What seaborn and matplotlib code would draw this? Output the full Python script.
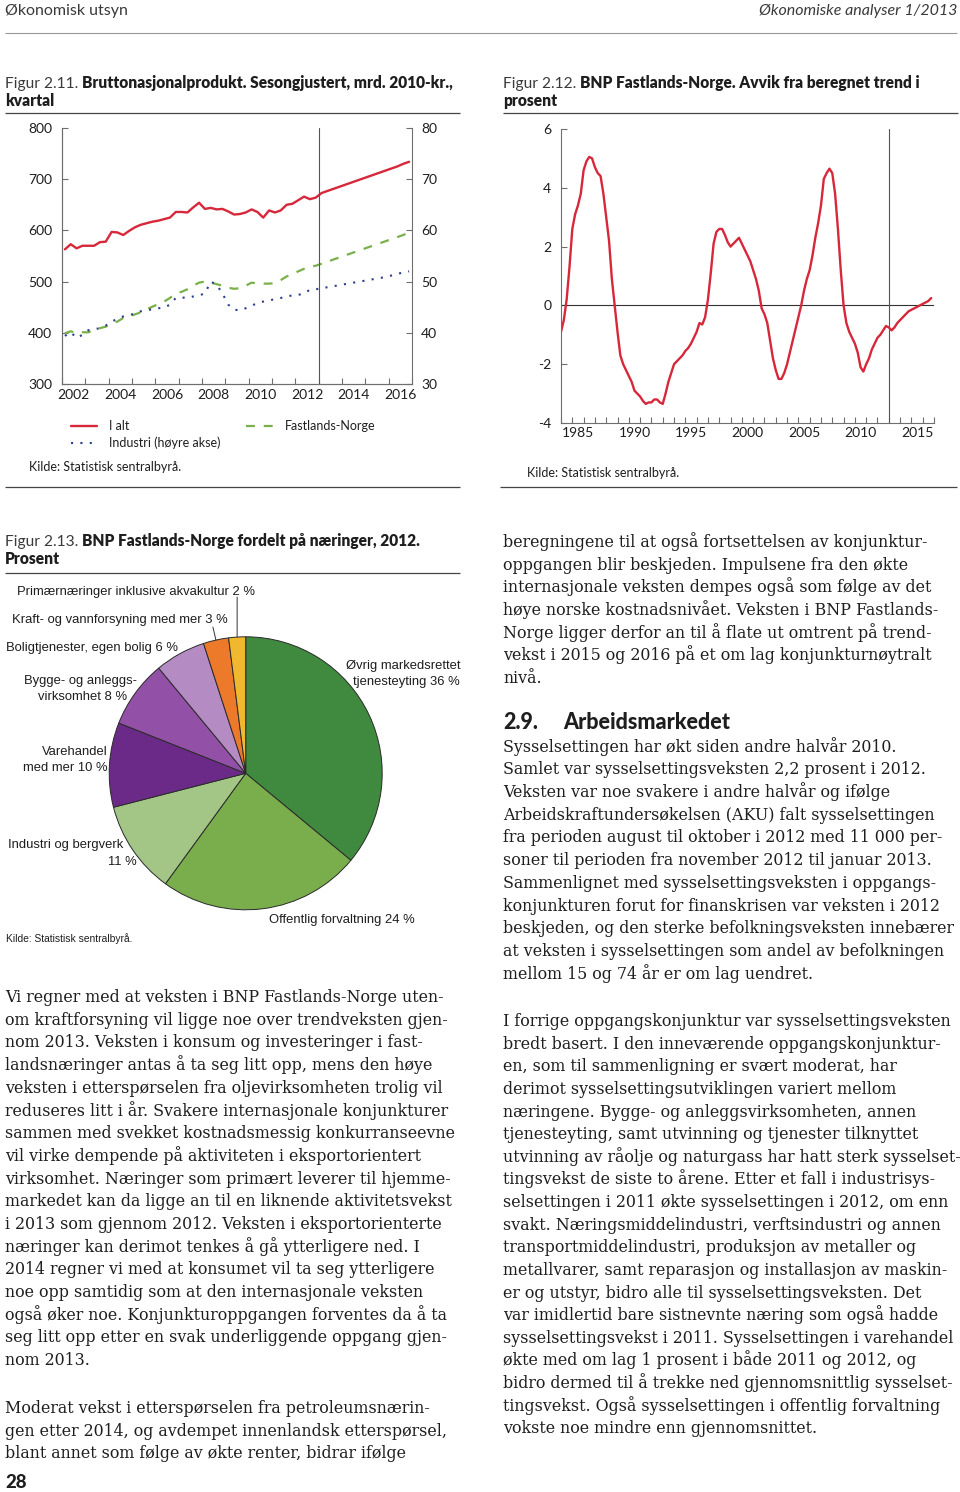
import numpy as np
import pandas as pd
import seaborn as sns
import matplotlib.pyplot as plt

# Figur 2.11: BNP, mrd. 2010-kr., kvartal 2002K1-2016K4 (prognose fra 2013)
bnp_i_alt = [563, 573, 565, 570, 570, 570, 577, 578, 597, 596, 591, 599,
             606, 611, 614, 617, 619, 622, 625, 636, 636, 635, 645, 654,
             642, 644, 641, 642, 637, 631, 632, 635, 641, 636, 625, 639,
             635, 639, 650, 652, 659, 666, 661, 664,
             673, 677, 681, 685, 689, 693, 697, 701, 705, 709, 713, 717,
             721, 725, 730, 734]
bnp_fastland = [399, 403, 399, 401, 401, 405, 409, 412, 417, 422, 429, 432,
                436, 440, 446, 451, 456, 461, 468, 477, 480, 485, 492, 498,
                500, 498, 495, 492, 488, 486, 487, 492, 498, 496, 496, 496,
                497, 503, 510, 515, 520, 525, 529, 531,
                535, 539, 543, 547, 551, 555, 559, 563, 567, 571, 575, 579,
                583, 587, 591, 596]
industri = [39.4, 40.1, 39.0, 39.6, 40.5, 40.7, 40.9, 41.4, 42.2, 42.7, 43.2, 43.4,
            43.8, 44.2, 44.4, 44.6, 44.8, 44.9, 45.5, 46.8, 46.9, 46.8, 47.1, 47.3,
            47.7, 50.0, 49.4, 47.7, 45.5, 44.5, 44.4, 44.8, 45.3, 45.8, 46.1, 46.3,
            46.6, 46.8, 47.1, 47.3, 47.4, 47.7, 48.4, 48.5,
            48.7, 48.9, 49.1, 49.3, 49.5, 49.7, 49.9, 50.1, 50.3, 50.5, 50.7, 50.9,
            51.2, 51.5, 51.8, 52.0]
aar_211 = list(range(2002, 2017, 2))

# Figur 2.12: avvik fra trend i prosent, kvartal 1984K1-2016K4
avvik = [-0.9, -0.5, 0.2, 1.3, 2.6, 3.1, 3.4, 3.8, 4.6, 4.9, 5.05, 5.0,
         4.7, 4.5, 4.4, 3.8, 3.0, 2.2, 0.9, 0.0, -0.9, -1.7, -2.0, -2.2,
         -2.4, -2.6, -2.9, -3.0, -3.1, -3.25, -3.35, -3.3, -3.3, -3.2, -3.2, -3.3,
         -3.35, -3.0, -2.6, -2.3, -2.0, -1.9, -1.8, -1.7, -1.55, -1.45, -1.3, -1.1,
         -0.9, -0.6, -0.65, -0.4, 0.2, 1.1, 2.1, 2.5, 2.6, 2.6, 2.4, 2.15,
         2.0, 2.1, 2.2, 2.3, 2.1, 1.9, 1.7, 1.5, 1.2, 0.9, 0.5, -0.1,
         -0.3, -0.6, -1.2, -1.8, -2.2, -2.5, -2.5, -2.3, -2.0, -1.6, -1.2, -0.8,
         -0.4, 0.0, 0.5, 0.9, 1.2, 1.7, 2.3, 2.8, 3.4, 4.3, 4.5, 4.65,
         4.5, 3.8, 2.6, 1.2, 0.0, -0.6, -0.9, -1.1, -1.3, -1.6, -2.1, -2.25,
         -2.0, -1.8, -1.5, -1.3, -1.1, -1.0, -0.85, -0.7, -0.75, -0.85, -0.75, -0.6,
         -0.5, -0.4, -0.3, -0.2, -0.15, -0.1, -0.05, 0.0, 0.05, 0.1, 0.15, 0.25]
aar_212 = list(range(1985, 2016, 5))

# Figur 2.13: BNP Fastlands-Norge fordelt paa naeringer 2012, prosent
naeringer = ['Øvrig markedsrettet tjenesteyting', 'Offentlig forvaltning',
             'Industri og bergverk', 'Varehandel med mer',
             'Bygge- og anleggsvirksomhet', 'Boligtjenester, egen bolig',
             'Kraft- og vannforsyning med mer', 'Primærnæringer inklusive akvakultur']
andeler = [36, 24, 11, 10, 8, 6, 3, 2]
pie_farger = ['#3f8a3e', '#7aae4c', '#a3c686', '#6b2a87',
              '#9250a6', '#b48bc3', '#ec7a2a', '#f0b82e']

venstre_tekst = [
    "Vi regner med at veksten i BNP Fastlands-Norge uten-",
    "om kraftforsyning vil ligge noe over trendveksten gjen-",
    "nom 2013. Veksten i konsum og investeringer i fast-",
    "landsnæringer antas å ta seg litt opp, mens den høye",
    "veksten i etterspørselen fra oljevirksomheten trolig vil",
    "reduseres litt i år. Svakere internasjonale konjunkturer",
    "sammen med svekket kostnadsmessig konkurranseevne",
    "vil virke dempende på aktiviteten i eksportorientert",
    "virksomhet. Næringer som primært leverer til hjemme-",
    "markedet kan da ligge an til en liknende aktivitetsvekst",
    "i 2013 som gjennom 2012. Veksten i eksportorienterte",
    "næringer kan derimot tenkes å gå ytterligere ned. I",
    "2014 regner vi med at konsumet vil ta seg ytterligere",
    "noe opp samtidig som at den internasjonale veksten",
    "også øker noe. Konjunkturoppgangen forventes da å ta",
    "seg litt opp etter en svak underliggende oppgang gjen-",
    "nom 2013.",
]
venstre_tekst2 = [
    "Moderat vekst i etterspørselen fra petroleumsnærin-",
    "gen etter 2014, og avdempet innenlandsk etterspørsel,",
    "blant annet som følge av økte renter, bidrar ifølge",
]
hoyre_tekst1 = [
    "beregningene til at også fortsettelsen av konjunktur-",
    "oppgangen blir beskjeden. Impulsene fra den økte",
    "internasjonale veksten dempes også som følge av det",
    "høye norske kostnadsnivået. Veksten i BNP Fastlands-",
    "Norge ligger derfor an til å flate ut omtrent på trend-",
    "vekst i 2015 og 2016 på et om lag konjunkturnøytralt",
    "nivå.",
]
hoyre_tekst2 = [
    "Sysselsettingen har økt siden andre halvår 2010.",
    "Samlet var sysselsettingsveksten 2,2 prosent i 2012.",
    "Veksten var noe svakere i andre halvår og ifølge",
    "Arbeidskraftundersøkelsen (AKU) falt sysselsettingen",
    "fra perioden august til oktober i 2012 med 11 000 per-",
    "soner til perioden fra november 2012 til januar 2013.",
    "Sammenlignet med sysselsettingsveksten i oppgangs-",
    "konjunkturen forut for finanskrisen var veksten i 2012",
    "beskjeden, og den sterke befolkningsveksten innebærer",
    "at veksten i sysselsettingen som andel av befolkningen",
    "mellom 15 og 74 år er om lag uendret.",
]
hoyre_tekst3 = [
    "I forrige oppgangskonjunktur var sysselsettingsveksten",
    "bredt basert. I den inneværende oppgangskonjunktur-",
    "en, som til sammenligning er svært moderat, har",
    "derimot sysselsettingsutviklingen variert mellom",
    "næringene. Bygge- og anleggsvirksomheten, annen",
    "tjenesteyting, samt utvinning og tjenester tilknyttet",
    "utvinning av råolje og naturgass har hatt sterk sysselset-",
    "tingsvekst de siste to årene. Etter et fall i industrisys-",
    "selsettingen i 2011 økte sysselsettingen i 2012, om enn",
    "svakt. Næringsmiddelindustri, verftsindustri og annen",
    "transportmiddelindustri, produksjon av metaller og",
    "metallvarer, samt reparasjon og installasjon av maskin-",
    "er og utstyr, bidro alle til sysselsettingsveksten. Det",
    "var imidlertid bare sistnevnte næring som også hadde",
    "sysselsettingsvekst i 2011. Sysselsettingen i varehandel",
    "økte med om lag 1 prosent i både 2011 og 2012, og",
    "bidro dermed til å trekke ned gjennomsnittlig sysselset-",
    "tingsvekst. Også sysselsettingen i offentlig forvaltning",
    "vokste noe mindre enn gjennomsnittet.",
]

sns.set_style('ticks')
plt.rcParams['font.family'] = ['Lato', 'DejaVu Sans']
plt.rcParams['axes.unicode_minus'] = False

RED = '#d6283a'
GREEN = '#7ab04a'
NAVY = '#2b3f8c'
SPINE = '#6e6e6e'
INK = '#1e1e1e'
SANS = ['Lato', 'DejaVu Sans']
ARIAL = ['Liberation Sans', 'DejaVu Sans']
SERIF = ['DejaVu Serif']

W, H = 960, 1492
fig = plt.figure(figsize=(W / 100, H / 100), dpi=100)

# side-akser i piksler for tekst og linjer
page = fig.add_axes([0, 0, 1, 1])
page.set_xlim(0, W)
page.set_ylim(H, 0)
page.axis('off')


def box(x0, y0, x1, y1):
    return [x0 / W, 1 - y1 / H, (x1 - x0) / W, (y1 - y0) / H]


def rule(x0, x1, y, color='#444444', lw=0.9):
    page.plot([x0, x1], [y, y], color=color, lw=lw, solid_capstyle='butt')


def title(x, y, nr, linje1, linje2):
    t = page.text(x, y, nr, family=SANS, size=11.2, color='#3a3a3a',
                  va='baseline')
    page.annotate(linje1, xy=(1, 0), xycoords=t, xytext=(4, 0),
                  textcoords='offset pixels', va='bottom', family=SANS,
                  size=11.2, weight='heavy', color=INK)
    page.text(x, y + 18, linje2, family=SANS, size=11.2, weight='heavy',
              color=INK, va='baseline')


# header
page.text(5, 15, 'Økonomisk utsyn', family=SANS, size=11.5, color='#3a3a3a',
          va='baseline')
page.text(957, 15, 'Økonomiske analyser 1/2013', family=SANS, size=11.5,
          style='italic', color='#3a3a3a', ha='right', va='baseline')
rule(5, 957, 33, color='#999999', lw=0.8)

# ---------- Figur 2.11 ----------
title(5, 87.7, 'Figur 2.11.', 'Bruttonasjonalprodukt. Sesongjustert, mrd. 2010-kr.,', 'kvartal')
rule(5, 460, 113)

df1 = pd.DataFrame({
    'tid': 2002 + np.arange(len(bnp_i_alt)) / 4 + 0.125,
    'I alt': bnp_i_alt,
    'Fastlands-Norge': bnp_fastland,
    'Industri': industri,
})
ax1 = fig.add_axes(box(62, 128, 412, 384))
ax1b = ax1.twinx()
sns.lineplot(data=df1, x='tid', y='I alt', ax=ax1, color=RED, lw=1.7)
sns.lineplot(data=df1, x='tid', y='Fastlands-Norge', ax=ax1, color=GREEN,
             lw=1.6, linestyle=(0, (4, 4)))
sns.lineplot(data=df1, x='tid', y='Industri', ax=ax1b, color=NAVY,
             lw=1.5, linestyle=(0, (1, 3.5)))
h_ialt, h_fast = ax1.lines[0], ax1.lines[1]
h_ind = ax1b.lines[0]
ax1.axvline(2013, color='#555555', lw=0.8)

ax1.set_xlim(2002, 2017)
ax1.set_ylim(300, 800)
ax1b.set_ylim(30, 80)
ax1.set_yticks(range(300, 801, 100))
ax1b.set_yticks(range(30, 81, 10))
ax1.set_xticks(range(2002, 2018))
ax1.set_xticklabels([])
ax1.set_xticks([a + 0.5 for a in aar_211], labels=[str(a) for a in aar_211], minor=True)
for a in (ax1, ax1b):
    a.set(xlabel='', ylabel='')
    a.spines['top'].set_visible(False)
    for s in a.spines.values():
        s.set_color(SPINE)
        s.set_linewidth(0.8)
ax1.spines['right'].set_visible(False)
ax1.tick_params(axis='y', direction='in', length=4, width=0.8, color=SPINE,
                labelsize=10, pad=7, labelcolor=INK)
ax1b.tick_params(axis='y', direction='in', length=4, width=0.8, color=SPINE,
                 labelsize=10, pad=6.5, labelcolor=INK)
ax1.tick_params(axis='x', which='major', direction='in', length=4, width=0.8,
                color=SPINE)
ax1.tick_params(axis='x', which='minor', length=0, labelsize=10, pad=3.5,
                labelcolor=INK)
for lab in ax1.get_yticklabels() + ax1b.get_yticklabels() + ax1.get_xticklabels(minor=True):
    lab.set_family(SANS)

fig.legend([h_ialt, h_ind, h_fast], ['I alt', 'Industri (høyre akse)', 'Fastlands-Norge'],
           ncol=2, loc='upper left', bbox_to_anchor=(71 / W, 1 - 420 / H),
           frameon=False, prop=dict(family=SANS, size=9), handlelength=2.1,
           handletextpad=0.95, labelspacing=0.35, columnspacing=2.05,
           borderpad=0, borderaxespad=0, labelcolor=INK)
page.text(29, 470.7, 'Kilde: Statistisk sentralbyrå.', family=SANS, size=9,
          color=INK, va='baseline')
rule(5, 460, 487)

# ---------- Figur 2.12 ----------
title(503, 87.7, 'Figur 2.12.', 'BNP Fastlands-Norge. Avvik fra beregnet trend i', 'prosent')
rule(503, 958, 113)

df2 = pd.DataFrame({'tid': 1984 + np.arange(len(avvik)) / 4, 'avvik': avvik})
ax2 = fig.add_axes(box(561, 129, 934, 423))
sns.lineplot(data=df2, x='tid', y='avvik', ax=ax2, color=RED, lw=1.7)
ax2.axhline(0, color='#333333', lw=0.8, zorder=1)
ax2.axvline(2013, color='#555555', lw=0.8, zorder=1)
ax2.set_xlim(1984, 2017)
ax2.set_ylim(-4, 6)
ax2.set_yticks(range(-4, 7, 2))
ax2.set_xticks(range(1984, 2018))
ax2.set_xticklabels([])
ax2.set_xticks([a + 0.5 for a in aar_212], labels=[str(a) for a in aar_212], minor=True)
ax2.set(xlabel='', ylabel='')
ax2.spines[['top', 'right']].set_visible(False)
for s in ax2.spines.values():
    s.set_color(SPINE)
    s.set_linewidth(0.8)
ax2.tick_params(axis='y', direction='in', length=4, width=0.8, color=SPINE,
                labelsize=10, pad=7, labelcolor=INK)
ax2.tick_params(axis='x', which='major', direction='in', length=4, width=0.8,
                color=SPINE)
ax2.tick_params(axis='x', which='minor', length=0, labelsize=10, pad=3,
                labelcolor=INK)
for lab in ax2.get_yticklabels() + ax2.get_xticklabels(minor=True):
    lab.set_family(SANS)
page.text(527, 477, 'Kilde: Statistisk sentralbyrå.', family=SANS, size=9,
          color=INK, va='baseline')
rule(500, 957, 487)

# ---------- Figur 2.13 ----------
title(5, 546, 'Figur 2.13.', 'BNP Fastlands-Norge fordelt på næringer, 2012.', 'Prosent')
rule(5, 460, 573)

cx, cy, r = 245.7, 773.3, 136.5
ax3 = fig.add_axes(box(cx - r * 1.02, cy - r * 1.02, cx + r * 1.02, cy + r * 1.02))
wedges, _ = ax3.pie(andeler, colors=pie_farger, startangle=90, counterclock=False,
                    wedgeprops=dict(edgecolor='#2a2a2a', linewidth=0.7))
ax3.set_xlim(-1.02, 1.02)
ax3.set_ylim(-1.02, 1.02)
ax3.set_aspect('equal')
ax3.axis('off')

# tynne streker til de to minste sektorene
for i, off in ((7, (0, 40)), (6, (-3, 13))):
    th = np.deg2rad((wedges[i].theta1 + wedges[i].theta2) / 2)
    ax3.annotate('', xy=(np.cos(th), np.sin(th)), xytext=off,
                 textcoords='offset pixels',
                 arrowprops=dict(arrowstyle='-', color='#333333', lw=0.7,
                                 shrinkA=0, shrinkB=0))


def plab(x, y, s, ha='left'):
    page.text(x, y, s, family=ARIAL, size=9.4, color=INK, ha=ha, va='baseline')


plab(17, 595, f'Primærnæringer inklusive akvakultur {andeler[7]} %')
plab(12, 622.7, f'Kraft- og vannforsyning med mer {andeler[6]} %')
plab(6, 651, f'Boligtjenester, egen bolig {andeler[5]} %')
plab(81, 684.3, 'Bygge- og anleggs-', ha='center')
plab(83, 700, f'virksomhet {andeler[4]} %', ha='center')
plab(107.5, 755, 'Varehandel', ha='right')
plab(107.5, 770.7, f'med mer {andeler[3]} %', ha='right')
plab(8, 848.3, 'Industri og bergverk')
plab(136.5, 865, f'{andeler[2]} %', ha='right')
plab(460, 669.3, 'Øvrig markedsrettet', ha='right')
plab(460, 685.3, f'tjenesteyting {andeler[0]} %', ha='right')
plab(269.3, 922.7, f'Offentlig forvaltning {andeler[1]} %')
page.text(6, 941.7, 'Kilde: Statistisk sentralbyrå.', family=ARIAL, size=7.4,
          color=INK, va='baseline')

# ---------- brodtekst ----------
renderer = fig.canvas.get_renderer()
probe = page.text(0, 0, 'Arbeidskraftundersøkelsen (AKU) falt sysselsettingen',
                  family=SERIF, size=10)
body_size = 10 * 435 / probe.get_window_extent(renderer).width
probe.remove()


def block(lines, x, y0, step=22.7):
    for i, s in enumerate(lines):
        page.text(x, y0 + i * step, s, family=SERIF, size=body_size,
                  color=INK, va='baseline')


block(venstre_tekst, 5, 1002)
block(venstre_tekst2, 5, 1413)
block(hoyre_tekst1, 503, 547)
block(hoyre_tekst2, 503, 751.7)
block(hoyre_tekst3, 503, 1026, step=22.63)

page.text(503, 729.3, '2.9.', family=SANS, size=15.5, weight='black', color=INK,
          va='baseline')
page.text(563, 729.3, 'Arbeidsmarkedet', family=SANS, size=15.5, weight='black',
          color=INK, va='baseline')
page.text(5, 1488, '28', family=SANS, size=13.5, weight='black', color=INK,
          va='baseline')

fig.savefig('out.png', dpi=100)
